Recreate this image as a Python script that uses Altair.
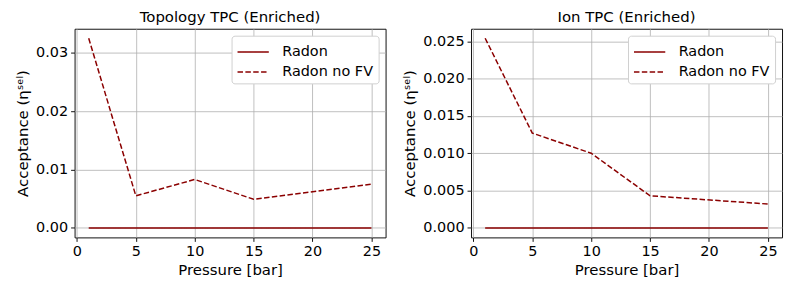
import altair as alt
import pandas as pd

pressure = [1, 5, 10, 15, 25]
topo_radon = [0, 0, 0, 0, 0]
topo_radon_nofv = [0.0325, 0.0055, 0.0083, 0.0049, 0.0075]
ion_radon = [0, 0, 0, 0, 0]
ion_radon_nofv = [0.0254, 0.0127, 0.0100, 0.0043, 0.0032]
series = ["Radon", "Radon no FV"]


def make_df(a, b):
    rows = []
    for p, v in zip(pressure, a):
        rows.append({"p": p, "v": v, "s": series[0]})
    for p, v in zip(pressure, b):
        rows.append({"p": p, "v": v, "s": series[1]})
    return pd.DataFrame(rows)


FONT = "DejaVu Sans"
RED = "#8b0000"


def panel(df, title, ydom, yticks, fmt):
    return alt.Chart(df, title=alt.TitleParams(title, fontSize=15, fontWeight="normal", font=FONT, offset=4, color="#000")).mark_line(strokeWidth=1.5, clip=True).encode(
        x=alt.X("p:Q", title="Pressure [bar]",
                scale=alt.Scale(domain=[-0.2, 26.2], nice=False, zero=False),
                axis=alt.Axis(values=[0, 5, 10, 15, 20, 25], format="d")),
        y=alt.Y("v:Q", title="Acceptance (ηˢᵉˡ)",
                scale=alt.Scale(domain=ydom, nice=False, zero=False),
                axis=alt.Axis(values=yticks, format=fmt)),
        color=alt.Color("s:N", scale=alt.Scale(domain=series, range=[RED, RED]),
                        legend=alt.Legend(title=None, orient="top-right")),
        strokeDash=alt.StrokeDash("s:N", scale=alt.Scale(domain=series, range=[[1, 0], [5.5, 2.4]]),
                                  legend=alt.Legend(title=None, orient="top-right")),
        detail="s:N",
    ).properties(width=313, height=210)


left = panel(make_df(topo_radon, topo_radon_nofv), "Topology TPC (Enriched)",
             [-0.001625, 0.034125], [0, 0.01, 0.02, 0.03], ".2f")
right = panel(make_df(ion_radon, ion_radon_nofv), "Ion TPC (Enriched)",
              [-0.00127, 0.02667], [0, 0.005, 0.01, 0.015, 0.02, 0.025], ".3f")

chart = alt.hconcat(left, right, spacing=15).resolve_scale(
    color="independent", strokeDash="independent"
).configure_view(stroke="#111", strokeWidth=1).configure_axis(
    labelFont=FONT, titleFont=FONT, labelFontSize=14.5, titleFontSize=15,
    titleFontWeight="normal", labelColor="#000", titleColor="#000",
    gridColor="#b0b0b0", gridWidth=0.8, domain=False, tickColor="#111",
    tickSize=4, labelPadding=3, titlePadding=5,
).configure_legend(
    labelFont=FONT, labelFontSize=14.5, labelColor="#000",
    symbolType="M-1,0H2", symbolSize=441, symbolStrokeWidth=1.5,
    symbolFillColor="transparent",
    strokeColor="#d0d0d0", fillColor="white", padding=5, cornerRadius=3,
    rowPadding=2, offset=7, labelOffset=23,
).properties(padding={"left": 7, "top": 0, "right": 2, "bottom": 2})

chart.save("out.html", embed_options={"renderer": "svg", "actions": False})
